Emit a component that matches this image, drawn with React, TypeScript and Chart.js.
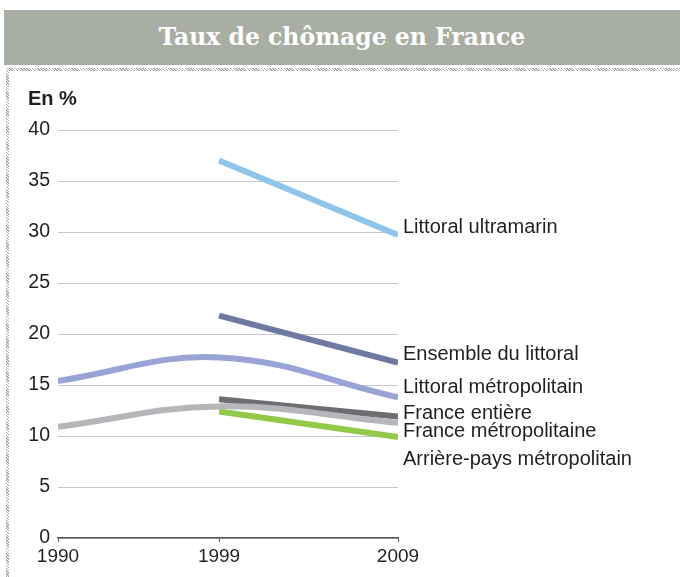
import React, { useEffect, useRef } from "react";
import { Chart, registerables } from "chart.js";

Chart.register(...registerables);

const TITLE = "Taux de chômage en France";
const UNIT = "En %";
const YEARS = [1990, 1999, 2009];
const X_TICKS = [1990, 1999, 2009];
const Y_MIN = 0;
const Y_MAX = 40;
const Y_STEP = 5;

const SERIES_NAMES = [
  "Littoral ultramarin",
  "Ensemble du littoral",
  "Littoral métropolitain",
  "France entière",
  "France métropolitaine",
  "Arrière-pays métropolitain",
];

const littoralUltramarin = [null, 37.0, 29.7];
const ensembleLittoral = [null, 21.8, 17.2];
const littoralMetropolitain = [15.4, 17.7, 13.8];
const franceEntiere = [null, 13.6, 11.9];
const franceMetropolitaine = [10.9, 12.9, 11.3];
const arrierePays = [null, 12.4, 9.9];

// value on the y scale at which each right-hand label sits
const LABEL_VALUES = [30.4, 18.0, 14.8, 12.25, 10.45, 7.7];

const COLORS = ["#8ec5e9", "#6f7aa1", "#98a4d5", "#6d6e71", "#b5b6b9", "#93c94b"];

const SERIES = [
  littoralUltramarin,
  ensembleLittoral,
  littoralMetropolitain,
  franceEntiere,
  franceMetropolitaine,
  arrierePays,
];

const FONT = "'Liberation Sans', Arial, sans-serif";

export default function App() {
  const ref = useRef<HTMLCanvasElement | null>(null);

  useEffect(() => {
    if (!ref.current) return;
    const labelsPlugin = {
      id: "endLabels",
      afterDraw(chart: any) {
        const ctx = chart.ctx;
        const y = chart.scales.y;
        const area = chart.chartArea;
        ctx.save();
        ctx.font = `20px ${FONT}`;
        ctx.fillStyle = "#231f20";
        ctx.textBaseline = "middle";
        ctx.textAlign = "left";
        SERIES_NAMES.forEach((name, i) => {
          ctx.fillText(name, area.right + 5, y.getPixelForValue(LABEL_VALUES[i]));
        });
        ctx.font = `bold 20px ${FONT}`;
        ctx.fillText(UNIT, 28, y.getPixelForValue(Y_MAX) - 31);
        ctx.restore();
      },
    };

    // draw order: dark gray on top of light gray
    const order = [0, 1, 2, 4, 3, 5];
    const datasets = order.map((i) => ({
      label: SERIES_NAMES[i],
      data: YEARS.map((yr, j) => ({ x: yr, y: SERIES[i][j] })),
      borderColor: COLORS[i],
      backgroundColor: COLORS[i],
      borderWidth: 6,
      borderCapStyle: "butt" as const,
      pointRadius: 0,
      tension: 0.4,
      spanGaps: false,
      fill: false,
    }));

    const chart = new Chart(ref.current, {
      type: "line",
      data: { datasets },
      options: {
        animation: false,
        responsive: false,
        maintainAspectRatio: false,
        layout: { padding: { left: 0, top: 130, right: 282, bottom: 0 } },
        plugins: { legend: { display: false }, tooltip: { enabled: false } },
        scales: {
          x: {
            type: "linear",
            min: YEARS[0],
            max: YEARS[YEARS.length - 1],
            afterBuildTicks: (s: any) => {
              s.ticks = X_TICKS.map((v) => ({ value: v }));
            },
            afterFit: (s: any) => {
              s.height = 39;
            },
            grid: {
              drawOnChartArea: false,
              drawTicks: true,
              tickLength: 4,
              color: "#555555",
            },
            border: { display: true, color: "#555555", width: 1.5 },
            ticks: {
              autoSkip: false,
              maxRotation: 0,
              padding: 3,
              color: "#231f20",
              font: { family: FONT, size: 19 },
              callback: (v: any) => String(v),
            },
          },
          y: {
            min: Y_MIN,
            max: Y_MAX,
            afterFit: (s: any) => {
              s.width = 58;
            },
            grid: { color: "#c3c7cb", lineWidth: 1, drawTicks: false },
            border: { display: false },
            ticks: {
              stepSize: Y_STEP,
              padding: 8,
              color: "#231f20",
              font: { family: FONT, size: 19.5 },
            },
          },
        },
      },
      plugins: [labelsPlugin],
    });
    return () => chart.destroy();
  }, []);

  const hatch =
    "repeating-linear-gradient(45deg, #a8a8a8 0px, #a8a8a8 1px, #ffffff 1px, #ffffff 2px)";

  return (
    <div style={{ position: "absolute", left: 0, top: 0, width: 680, height: 577, background: "#ffffff", overflow: "hidden" }}>
      <div
        style={{
          position: "absolute",
          left: 4,
          top: 10,
          width: 676,
          height: 55,
          background: "#a9aea3",
          color: "#ffffff",
          fontFamily: "'DejaVu Serif', 'Liberation Serif', serif",
          fontWeight: "bold",
          fontSize: 23.5,
          lineHeight: "55px",
          textAlign: "center",
        }}
      >
        {TITLE}
      </div>
      <div style={{ position: "absolute", left: 6, top: 68, width: 674, height: 3, background: hatch }} />
      <div style={{ position: "absolute", left: 6, top: 68, width: 3, height: 509, background: hatch }} />
      <canvas ref={ref} width={680} height={577} style={{ position: "absolute", left: 0, top: 0 }} />
    </div>
  );
}
